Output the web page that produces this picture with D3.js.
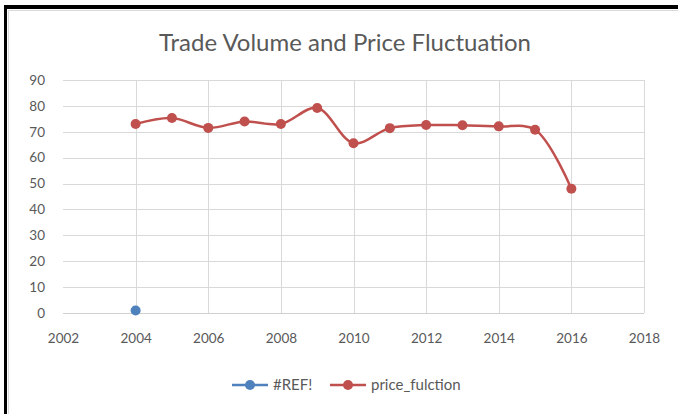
<!DOCTYPE html>
<html>
<head>
<meta charset="utf-8">
<script src="https://cdn.jsdelivr.net/npm/d3@7"></script>
<style>
  html, body { margin: 0; padding: 0; background: #fff; }
  svg { display: block; }
</style>
</head>
<body>
<script>
// ---- data ----
const chartTitle = "Trade Volume and Price Fluctuation";
const priceYears = [2004, 2005, 2006, 2007, 2008, 2009, 2010, 2011, 2012, 2013, 2014, 2015, 2016];
const priceValues = [73.0, 75.3, 71.5, 74.0, 73.0, 79.2, 65.6, 71.4, 72.6, 72.5, 72.1, 70.8, 48.0];
const refYears = [2004];
const refValues = [1];
const seriesNames = ["#REF!", "price_fulction"];
const seriesColors = ["#4F81BD", "#C0504D"];
const xTicks = [2002, 2004, 2006, 2008, 2010, 2012, 2014, 2016, 2018];
const yTicks = [0, 10, 20, 30, 40, 50, 60, 70, 80, 90];

const W = 678, H = 414;
const svg = d3.select("body").append("svg").attr("width", W).attr("height", H);
const font = "Lato, Carlito, Calibri, 'Liberation Sans', sans-serif";

// frame
svg.append("rect").attr("x", 0).attr("y", 0).attr("width", W).attr("height", H).attr("fill", "#fff");
svg.append("line").attr("x1", 8.5).attr("x2", W).attr("y1", 10.5).attr("y2", 10.5).attr("stroke", "#d9d9d9").attr("stroke-width", 1);
svg.append("line").attr("x1", 8.5).attr("x2", 8.5).attr("y1", 10.5).attr("y2", H).attr("stroke", "#d9d9d9").attr("stroke-width", 1);
svg.append("rect").attr("x", 4).attr("y", 5).attr("width", W - 4).attr("height", 4).attr("fill", "#000");
svg.append("rect").attr("x", 4).attr("y", 5).attr("width", 3).attr("height", H - 5).attr("fill", "#000");

const x = d3.scaleLinear().domain([2002, 2018]).range([63, 644]);
const y = d3.scaleLinear().domain([0, 90]).range([313, 80]);

// gridlines
const g = svg.append("g");
g.append("g").selectAll("line").data(yTicks.filter(d => d > 0)).join("line")
  .attr("x1", x(2002)).attr("x2", x(2018))
  .attr("y1", d => Math.round(y(d)) + 0.5).attr("y2", d => Math.round(y(d)) + 0.5)
  .attr("stroke", "#d9d9d9").attr("stroke-width", 1);
g.append("g").selectAll("line").data(xTicks.filter(d => d > 2002)).join("line")
  .attr("x1", d => Math.round(x(d)) + 0.5).attr("x2", d => Math.round(x(d)) + 0.5)
  .attr("y1", y(90)).attr("y2", y(0))
  .attr("stroke", "#d9d9d9").attr("stroke-width", 1);
// axis baseline
g.append("line").attr("x1", x(2002)).attr("x2", x(2018))
  .attr("y1", Math.round(y(0)) + 0.5).attr("y2", Math.round(y(0)) + 0.5)
  .attr("stroke", "#d0d0d0").attr("stroke-width", 1);

// axes labels via d3 axes
const yAxis = svg.append("g").attr("transform", `translate(${x(2002)},0)`)
  .call(d3.axisLeft(y).tickValues(yTicks).tickSize(0).tickPadding(18).tickFormat(d3.format("d")));
yAxis.select(".domain").remove();
yAxis.selectAll("text").attr("font-family", font).attr("font-size", 13.5).attr("fill", "#595959");

const xAxis = svg.append("g").attr("transform", `translate(0,${y(0)})`)
  .call(d3.axisBottom(x).tickValues(xTicks).tickSize(0).tickPadding(20).tickFormat(d3.format("d")));
xAxis.select(".domain").remove();
xAxis.selectAll("text").attr("font-family", font).attr("font-size", 13.5).attr("fill", "#595959");

// price series
const line = d3.line().x((d, i) => x(priceYears[i])).y(d => y(d)).curve(d3.curveCatmullRom.alpha(0.5));
svg.append("path").datum(priceValues).attr("d", line)
  .attr("fill", "none").attr("stroke", seriesColors[1]).attr("stroke-width", 2.5).attr("stroke-linejoin", "round");
svg.append("g").selectAll("circle").data(priceValues).join("circle")
  .attr("cx", (d, i) => x(priceYears[i])).attr("cy", d => y(d)).attr("r", 5)
  .attr("fill", seriesColors[1]);

// #REF! series
svg.append("g").selectAll("circle").data(refValues).join("circle")
  .attr("cx", (d, i) => x(refYears[i])).attr("cy", d => y(d)).attr("r", 5)
  .attr("fill", seriesColors[0]);

// title
const title = svg.append("text").attr("x", 345).attr("y", 51).attr("text-anchor", "middle")
  .attr("font-family", font).attr("font-size", 21).attr("fill", "#595959").text(chartTitle);
const tw = title.node().getComputedTextLength();
title.attr("font-size", 21 * 372 / tw);

// legend
const legendY = 385;
const legendItems = [{ x0: 232, name: seriesNames[0], color: seriesColors[0] }, { x0: 330, name: seriesNames[1], color: seriesColors[1] }];
const lg = svg.append("g").selectAll("g").data(legendItems).join("g").attr("transform", d => `translate(${d.x0},${legendY})`);
lg.append("line").attr("x1", 0).attr("x2", 36).attr("y1", 0).attr("y2", 0).attr("stroke", d => d.color).attr("stroke-width", 2.5);
lg.append("circle").attr("cx", 18).attr("cy", 0).attr("r", 5).attr("fill", d => d.color);
lg.append("text").attr("x", 41).attr("y", 5).attr("font-family", font).attr("font-size", 15)
  .attr("fill", "#595959").text(d => d.name);
</script>
</body>
</html>
